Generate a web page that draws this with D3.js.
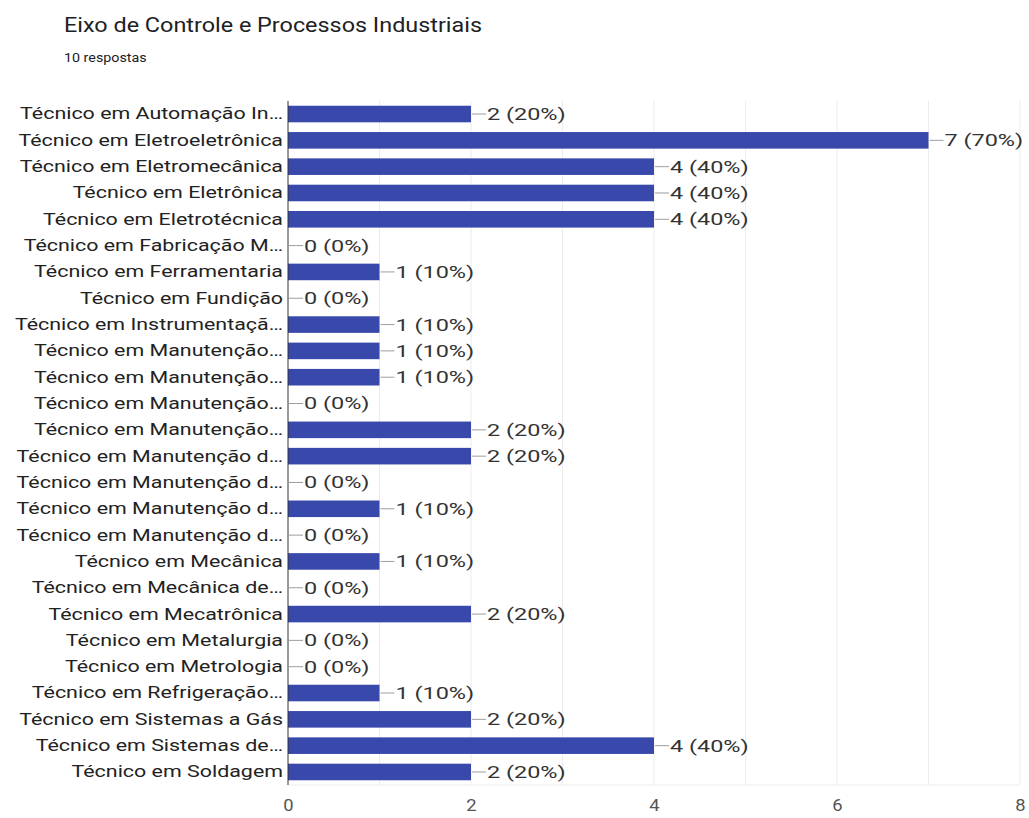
<!DOCTYPE html>
<html>
<head>
<meta charset="utf-8">
<script src="https://cdn.jsdelivr.net/npm/d3@7"></script>
<style>
  body { margin: 0; background: #fff; }
  svg { font-family: Roboto, Arial, sans-serif; }
</style>
</head>
<body>
<div id="chart"></div>
<script>
// categories (as shown, truncated like the original)
const categories = [
  'Técnico em Automação In…',
  'Técnico em Eletroeletrônica',
  'Técnico em Eletromecânica',
  'Técnico em Eletrônica',
  'Técnico em Eletrotécnica',
  'Técnico em Fabricação M…',
  'Técnico em Ferramentaria',
  'Técnico em Fundição',
  'Técnico em Instrumentaçã…',
  'Técnico em Manutenção…',
  'Técnico em Manutenção…',
  'Técnico em Manutenção…',
  'Técnico em Manutenção…',
  'Técnico em Manutenção d…',
  'Técnico em Manutenção d…',
  'Técnico em Manutenção d…',
  'Técnico em Manutenção d…',
  'Técnico em Mecânica',
  'Técnico em Mecânica de…',
  'Técnico em Mecatrônica',
  'Técnico em Metalurgia',
  'Técnico em Metrologia',
  'Técnico em Refrigeração…',
  'Técnico em Sistemas a Gás',
  'Técnico em Sistemas de…',
  'Técnico em Soldagem'
];
// counts
const values = [2, 7, 4, 4, 4, 0, 1, 0, 1, 1, 1, 0, 2, 2, 0, 1, 0, 1, 0, 2, 0, 0, 1, 2, 4, 2];
const total = 10;
const xTicks = [0, 2, 4, 6, 8];

const title = 'Eixo de Controle e Processos Industriais';
const subtitle = total + ' respostas';

const width = 1029, height = 818;
const margin = {t: 101, r: 9, b: 33, l: 288};

// the source screenshot is stretched sideways, so text gets a horizontal scale
const sxLabel = 1.26, sxValue = 1.38, sxTitle = 1.17, sxSub = 1.1, sxTick = 1.15;

const svg = d3.select('#chart').append('svg')
  .attr('width', width)
  .attr('height', height);

svg.append('text')
  .attr('transform', `translate(64,32) scale(${sxTitle},1)`)
  .attr('font-size', 20)
  .attr('fill', '#202124')
  .text(title);

svg.append('text')
  .attr('transform', `translate(64,62) scale(${sxSub},1)`)
  .attr('font-size', 13)
  .attr('fill', '#202124')
  .text(subtitle);

// use index as key since labels repeat
const idx = d3.range(categories.length);

const x = d3.scaleLinear().domain([0, 8]).range([margin.l, width - margin.r]);
const y = d3.scaleBand().domain(idx).range([margin.t, height - margin.b]).paddingInner(0.37).paddingOuter(0.18);

// gridlines every 1
svg.append('g')
  .selectAll('line')
  .data(d3.range(1, 9))
  .join('line')
  .attr('x1', d => x(d)).attr('x2', d => x(d))
  .attr('y1', margin.t).attr('y2', height - margin.b)
  .attr('stroke', '#ececec');

svg.append('line')
  .attr('x1', margin.l).attr('x2', x(8))
  .attr('y1', height - margin.b).attr('y2', height - margin.b)
  .attr('stroke', '#ececec');

// bars
svg.append('g')
  .selectAll('rect')
  .data(idx)
  .join('rect')
  .attr('x', x(0))
  .attr('y', i => y(i))
  .attr('width', i => x(values[i]) - x(0))
  .attr('height', y.bandwidth())
  .attr('fill', '#3949ab');

// leader lines + value labels
const ann = svg.append('g');
ann.selectAll('line')
  .data(idx)
  .join('line')
  .attr('x1', i => x(values[i]) + 1)
  .attr('x2', i => x(values[i]) + 15)
  .attr('y1', i => y(i) + y.bandwidth() / 2)
  .attr('y2', i => y(i) + y.bandwidth() / 2)
  .attr('stroke', '#9e9e9e');

ann.selectAll('text')
  .data(idx)
  .join('text')
  .attr('transform', i => `translate(${x(values[i]) + 16},${y(i) + y.bandwidth() / 2}) scale(${sxValue},1)`)
  .attr('dy', '0.35em')
  .attr('font-size', 17)
  .attr('fill', '#333')
  .text(i => `${values[i]} (${Math.round(values[i] / total * 100)}%)`);

// y axis
const yAxis = svg.append('g')
  .attr('transform', `translate(${margin.l},0)`)
  .call(d3.axisLeft(y).tickSize(0).tickPadding(5).tickFormat(i => categories[i]));
yAxis.select('.domain').attr('stroke', '#333').attr('d', `M0,${margin.t}V${height - margin.b}`);
yAxis.selectAll('text')
  .attr('x', -5 / sxLabel)
  .attr('transform', `scale(${sxLabel},1)`)
  .attr('font-size', 17)
  .attr('fill', '#222')
  .attr('font-family', 'Roboto, Arial, sans-serif');

// x axis
const xAxis = svg.append('g')
  .attr('transform', `translate(0,${height - margin.b})`)
  .call(d3.axisBottom(x).tickValues(xTicks).tickSize(0).tickPadding(15));
xAxis.select('.domain').remove();
xAxis.selectAll('text')
  .attr('transform', `scale(${sxTick},1)`)
  .attr('font-size', 16)
  .attr('fill', '#555')
  .attr('font-family', 'Roboto, Arial, sans-serif');
</script>
</body>
</html>
